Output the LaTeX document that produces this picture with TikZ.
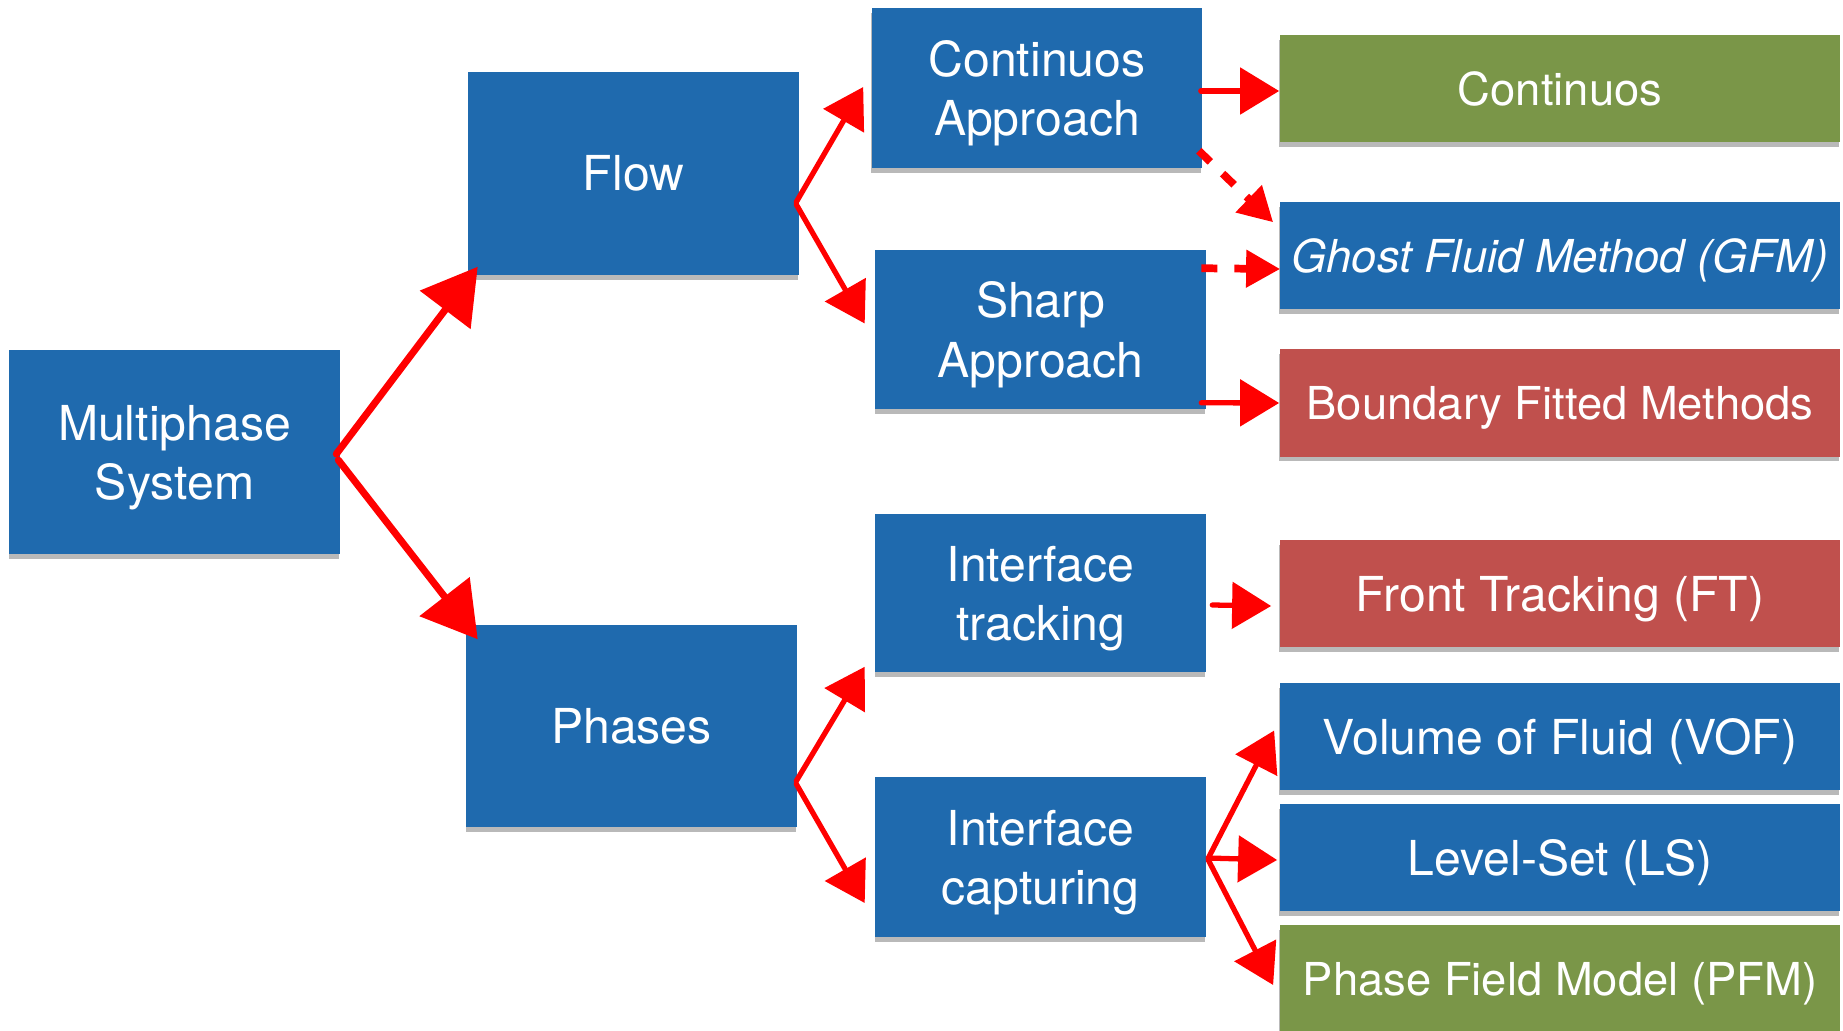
\documentclass[tikz,border=0pt]{standalone}
\usepackage{fontspec}
\setmainfont{TeX Gyre Heros}
\usetikzlibrary{arrows.meta,shadows,calc}
\definecolor{boxblue}{RGB}{31,106,174}
\definecolor{boxgreen}{RGB}{122,150,72}
\definecolor{boxred}{RGB}{192,80,77}
\definecolor{arrowred}{RGB}{255,0,0}

\begin{document}
\begin{tikzpicture}[x=0.01cm,y=-0.01cm,
  box/.style={rectangle, fill=boxblue, text=white, align=center, inner sep=0pt,
    font=\fontsize{13.7pt}{16.8pt}\selectfont,
    drop shadow={shadow xshift=-0.2pt, shadow yshift=-1.3pt, opacity=0.55}},
  smallfont/.style={font=\fontsize{12.9pt}{16.8pt}\selectfont},
  twolines/.style={text depth=-0.5pt},
  bigbox/.style={box, minimum width=3.30cm, minimum height=2.03cm},
  midbox/.style={box, twolines, minimum width=3.30cm, minimum height=1.59cm},
  leafbox/.style={box, text depth=0pt, minimum width=5.60cm, minimum height=1.07cm},
  greenbox/.style={leafbox, fill=boxgreen},
  redbox/.style={leafbox, fill=boxred},
  arr/.style={draw=arrowred, line width=1.5pt, line cap=round,
    -{Triangle[length=0.39cm,width=0.46cm]}},
  bigarr/.style={arr, line width=2pt, -{Triangle[length=0.54cm,width=0.62cm]}},
  dasharr/.style={draw=arrowred, line width=2.2pt,
    dash pattern=on 0.16cm off 0.17cm,
    -{Triangle[length=0.34cm,width=0.36cm]}},
]
\useasboundingbox (0,0) rectangle (1843,1030);

% first and second levels
\node[bigbox, twolines, minimum height=2.04cm] (ms) at (174.5,452) {Multiphase\\System};
\node[bigbox] (flow) at (633.5,173.5) {Flow};
\node[bigbox, minimum height=2.02cm] (phases) at (631.5,726) {Phases};

% approaches
\node[midbox, minimum height=1.60cm] (ca) at (1037,88) {Continuos\\Approach};
\node[midbox] (sa) at (1040.5,329.5) {Sharp\\Approach};
\node[midbox, minimum height=1.58cm] (it) at (1040.5,593) {Interface\\tracking};
\node[midbox, minimum height=1.60cm] (ic) at (1040.5,857) {Interface\\capturing};

% methods
\node[greenbox, smallfont] (cont) at (1560,88.5) {Continuos};
\node[leafbox, font=\fontsize{12.9pt}{16.8pt}\selectfont\itshape] (gfm) at (1560,255.5) {Ghost Fluid Method (GFM)};
\node[redbox, smallfont] (bfm) at (1560,403) {Boundary Fitted Methods};
\node[redbox] (ft) at (1560,593.5) {Front Tracking (FT)};
\node[leafbox] (vof) at (1560,736.5) {Volume of Fluid (VOF)};
\node[leafbox] (ls) at (1560,857.5) {Level-Set (LS)};
\node[greenbox, smallfont] (pfm) at (1560,978.5) {Phase Field Model (PFM)};

% connectors
\draw[bigarr] ($(ms.east)+(-4,2)$) -- ($(flow.south west)+(10,-9)$);
\draw[bigarr] ($(ms.east)+(-2,8)$) -- ($(phases.north west)+(12,15)$);

\draw[arr] ($(flow.east)+(-3,28.5)$) -- ($(ca.west)+(-8,-1)$);
\draw[arr] ($(flow.east)+(-3,31)$) -- ($(sa.west)+(-10,-6)$);

\draw[arr] ($(phases.east)+(-1,55)$) -- ($(it.south west)+(-10,-6)$);
\draw[arr] ($(phases.east)+(-1,58)$) -- ($(ic.west)+(-10,46)$);

\draw[arr] ($(ca.east)+(-2,3)$) -- ($(cont.west)+(0,2.5)$);
\draw[dasharr] ($(ca.south east)+(-4,-18)$) -- ($(gfm.north west)+(-6,21)$);
\draw[dasharr] ($(sa.north east)+(-5,19)$) -- ($(gfm.west)+(1,13.5)$);
\draw[arr] ($(sa.south east)+(-5,-7)$) -- ($(bfm.west)+(0,0)$);

\draw[arr] ($(it.east)+(6,12)$) -- ($(ft.west)+(-8,12.5)$);

\draw[arr] ($(ic.east)+(2,1)$) -- ($(vof.west)+(-5,-6)$);
\draw[arr] ($(ic.east)+(2,1)$) -- ($(ls.west)+(-2,2.5)$);
\draw[arr] ($(ic.east)+(2,3)$) -- ($(pfm.west)+(-6,6.5)$);
\end{tikzpicture}
\end{document}
